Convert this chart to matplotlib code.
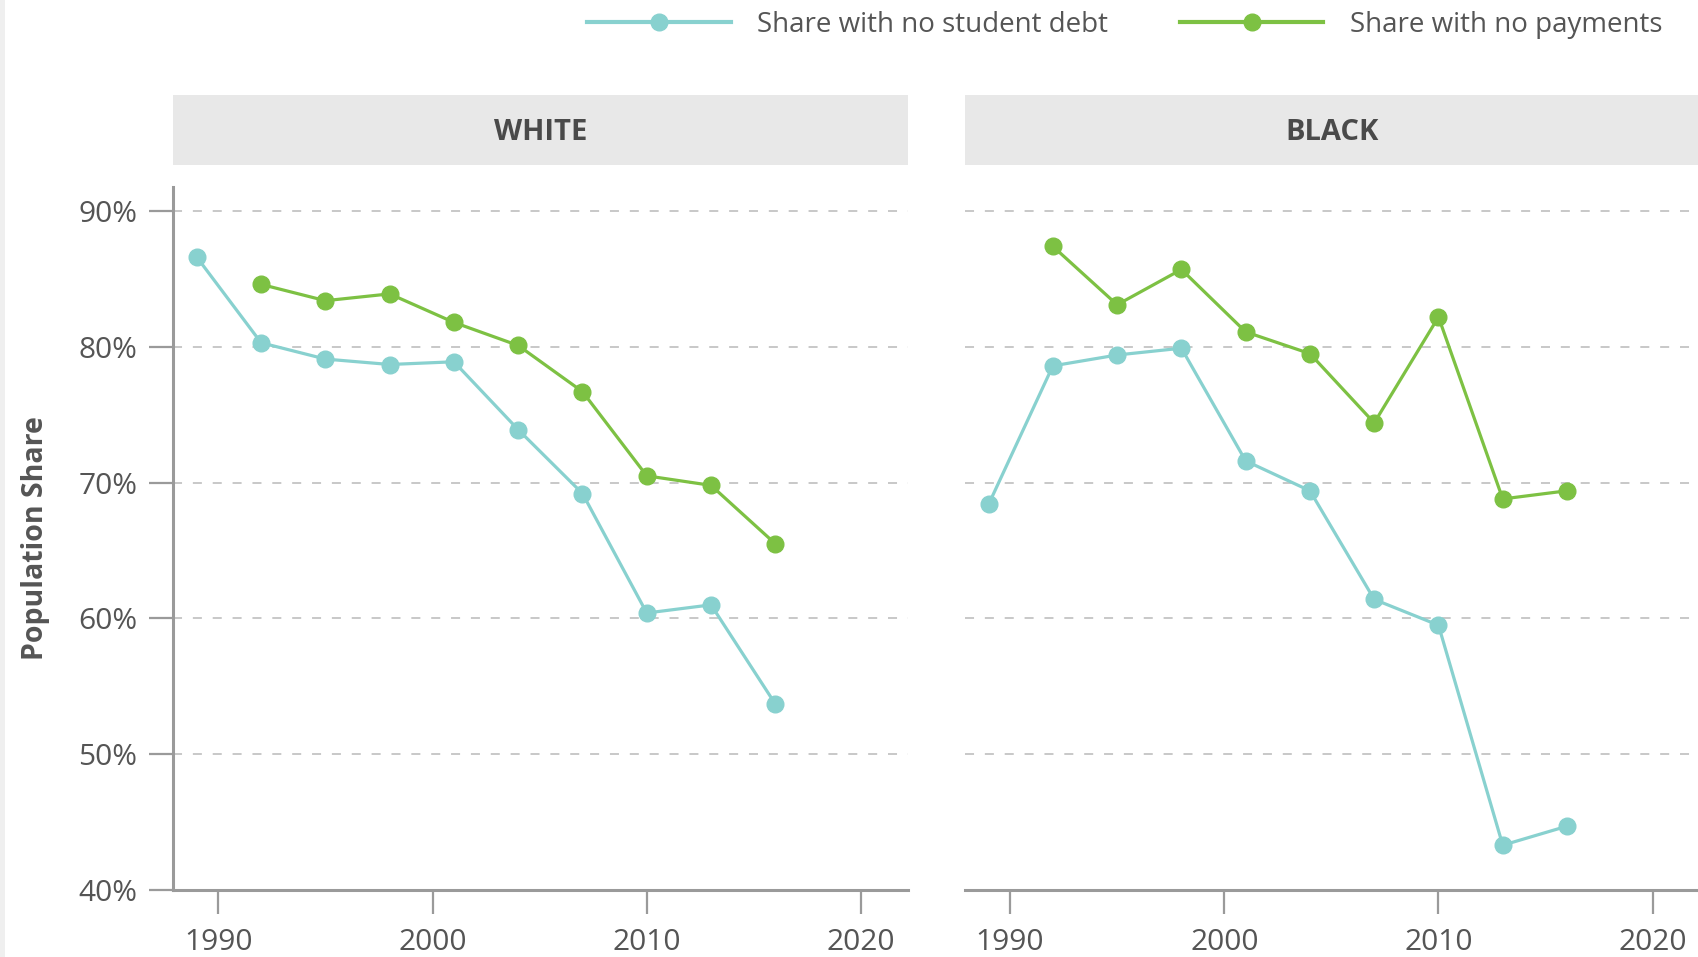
import matplotlib
matplotlib.use("Agg")
import matplotlib.pyplot as plt
from matplotlib.patches import Rectangle

plt.rcParams['font.family'] = ['Open Sans', 'DejaVu Sans']

years = [1989, 1992, 1995, 1998, 2001, 2004, 2007, 2010, 2013, 2016]
pay_years = [1992, 1995, 1998, 2001, 2004, 2007, 2010, 2013, 2016]

white_no_debt = [86.6, 80.3, 79.1, 78.7, 78.9, 73.9, 69.2, 60.4, 61.0, 53.7]
white_no_pay = [84.6, 83.4, 83.9, 81.8, 80.1, 76.7, 70.5, 69.8, 65.5]
black_no_debt = [68.4, 78.6, 79.4, 79.9, 71.6, 69.4, 61.4, 59.5, 43.3, 44.7]
black_no_pay = [87.4, 83.1, 85.7, 81.1, 79.5, 74.4, 82.2, 68.8, 69.4]

panels = ["WHITE", "BLACK"]
series_labels = ["Share with no student debt", "Share with no payments"]
yticks = [40, 50, 60, 70, 80, 90]
ytick_labels = ["40%", "50%", "60%", "70%", "80%", "90%"]
xticks = [1990, 2000, 2010, 2020]

TEAL = "#88d1cf"
GREEN = "#7dc143"
AX = "#9a9a9a"
TXT = "#555555"

fig = plt.figure(figsize=(16.99, 9.57), dpi=100)
fig.patch.set_facecolor("white")
fig.add_artist(Rectangle((0, 0), 5 / 1699, 1, transform=fig.transFigure,
                         facecolor="#efefef", edgecolor="none"))

W = 0.4325
lefts = [0.102, 0.568]
bottom, height = 0.070, 0.735
data = [(white_no_debt, white_no_pay), (black_no_debt, black_no_pay)]

handles = None
for i, (name, (d, p)) in enumerate(zip(panels, data)):
    ax = fig.add_axes([lefts[i], bottom, W, height])
    ax.set_xlim(1987.9, 2022.2)
    ax.set_ylim(40, 91.8)
    for y in yticks[1:]:
        ax.axhline(y, color="#c4c4c4", lw=1.3, ls=(0, (5, 6)), zorder=0)
    l1, = ax.plot(years, d, color=TEAL, lw=2.3, marker="o", ms=12,
                  label=series_labels[0], clip_on=False, zorder=3)
    l2, = ax.plot(pay_years, p, color=GREEN, lw=2.3, marker="o", ms=12,
                  label=series_labels[1], clip_on=False, zorder=3)
    handles = [l1, l2]
    for s in ["top", "right"]:
        ax.spines[s].set_visible(False)
    ax.spines["bottom"].set_color(AX)
    ax.spines["bottom"].set_linewidth(2.2)
    ax.set_xticks(xticks)
    ax.set_xticklabels([str(x) for x in xticks])
    ax.tick_params(axis="x", length=17, width=1.6, color=AX, pad=10,
                   labelsize=21.5, labelcolor=TXT)
    ax.set_yticks(yticks)
    if i == 0:
        ax.spines["left"].set_color(AX)
        ax.spines["left"].set_linewidth(2.2)
        ax.set_yticklabels(ytick_labels)
        ax.tick_params(axis="y", length=17, width=1.6, color=AX, pad=9,
                       labelsize=21.5, labelcolor=TXT)
        ax.set_ylabel("Population Share", fontsize=20.5, fontweight="bold",
                      color=TXT, labelpad=20)
    else:
        ax.spines["left"].set_visible(False)
        ax.tick_params(axis="y", length=0, labelleft=False)
    # header strip
    fig.add_artist(Rectangle((lefts[i], 0.828), W, 0.073, transform=fig.transFigure,
                             facecolor="#e8e8e8", edgecolor="none"))
    fig.text(lefts[i] + W / 2, 0.862, name, ha="center", va="center",
             fontsize=21, fontweight="bold", color="#4a4a4a")

leg = fig.legend(handles, series_labels, loc="center right",
                 bbox_to_anchor=(0.993, 0.974), ncol=2, frameon=False,
                 fontsize=20, handlelength=5.15, handletextpad=0.95,
                 columnspacing=2.6, labelcolor=TXT, markerscale=1.0)
for h in leg.legend_handles:
    h.set_linewidth(3.0)

fig.savefig("out.png", dpi=100)
